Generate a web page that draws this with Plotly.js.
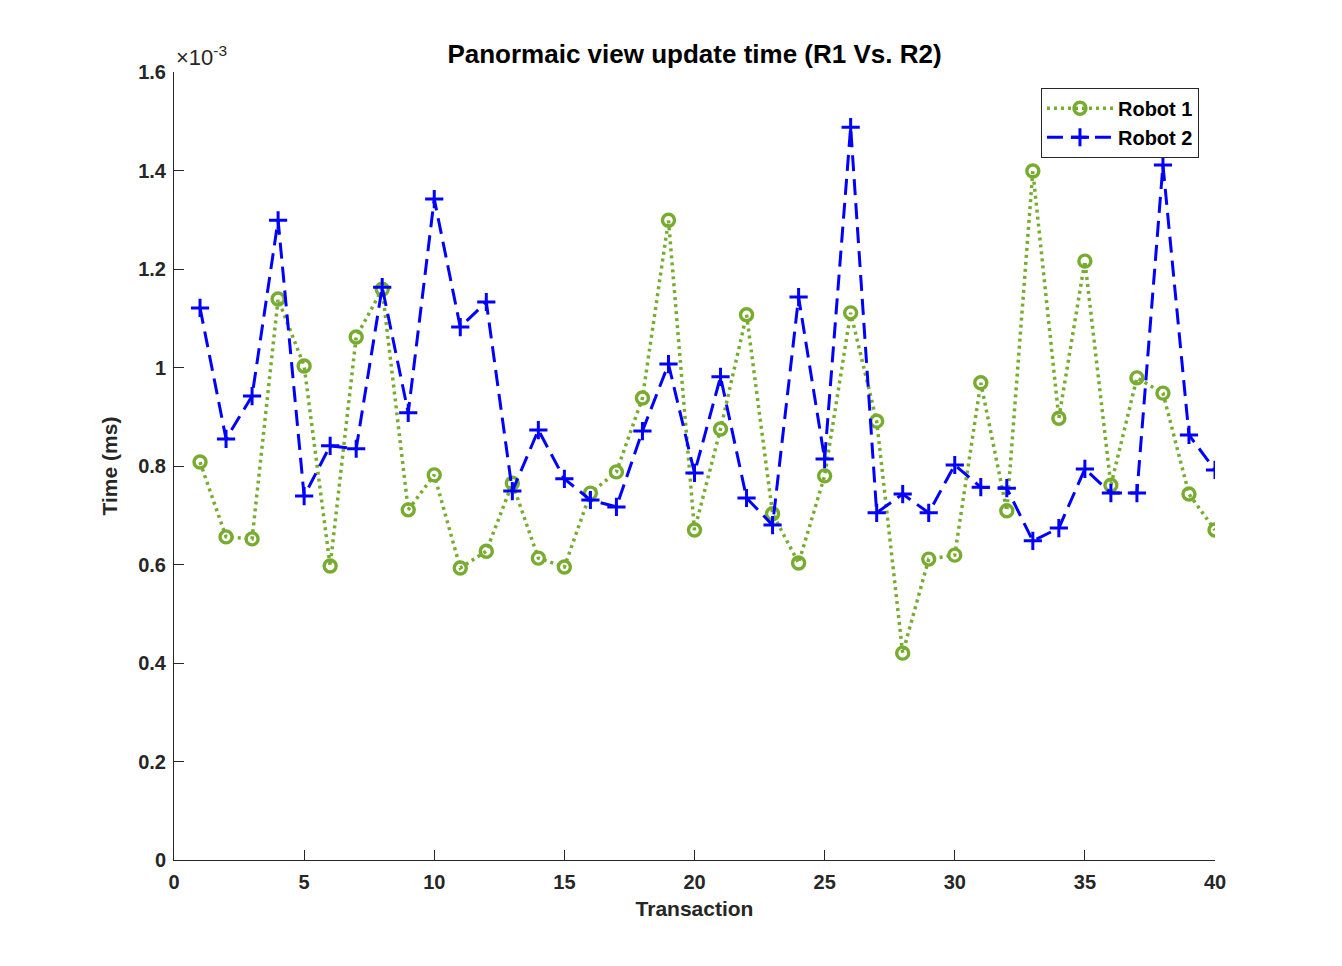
<!DOCTYPE html>
<html>
<head>
<meta charset="utf-8">
<script src="https://cdn.plot.ly/plotly-3.0.1.min.js"></script>
<style>html,body{margin:0;padding:0;background:#fff;}#chart{width:1342px;height:966px;}</style>
</head>
<body>
<div id="chart"></div>
<script>
// Transactions
const transactions = Array.from({length: 40}, (_, i) => i + 1);
// Time values (x10^-3)
const robot1 = [0.808,0.656,0.652,1.139,1.003,0.597,1.062,1.159,0.711,0.782,
                0.593,0.627,0.765,0.613,0.595,0.745,0.788,0.938,1.299,0.670,
                0.875,1.107,0.703,0.603,0.780,1.111,0.891,0.420,0.611,0.619,
                0.969,0.709,1.399,0.897,1.216,0.761,0.979,0.948,0.743,0.670];
const robot2 = [1.121,0.855,0.942,1.299,0.739,0.841,0.835,1.163,0.908,1.342,
                1.082,1.133,0.749,0.873,0.774,0.731,0.717,0.871,1.007,0.786,
                0.981,0.735,0.680,1.143,0.814,1.488,0.705,0.743,0.705,0.802,
                0.757,0.755,0.648,0.674,0.794,0.745,0.745,1.411,0.863,0.792];
const seriesNames = ["Robot 1", "Robot 2"];
const xTicks = [0,5,10,15,20,25,30,35,40];
const yTicks = [0,0.2,0.4,0.6,0.8,1,1.2,1.4,1.6];
const yTickText = ["0","0.2","0.4","0.6","0.8","1","1.2","1.4","1.6"];

const green = "rgb(119,172,48)";
const blue = "rgb(0,0,255)";
const fontFam = "Liberation Sans, Arial, Helvetica, sans-serif";
const axColor = "#262626";

const traces = [
  {x: transactions, y: robot1, name: seriesNames[0], mode: "lines+markers",
   line: {color: green, dash: "3px,4px", width: 3.5},
   marker: {symbol: "circle-open", size: 12, color: green, line: {width: 3.4, color: green}}},
  {x: transactions, y: robot2, name: seriesNames[1], mode: "lines+markers",
   line: {color: blue, dash: "16px,8px", width: 3},
   marker: {symbol: "cross-thin-open", size: 13, color: blue, line: {width: 3, color: blue}}}
];

const axisCommon = {
  showgrid: false, zeroline: false, showline: true, linecolor: axColor, linewidth: 1,
  ticks: "inside", ticklen: 10, tickwidth: 1, tickcolor: axColor, mirror: false,
  tickfont: {family: fontFam, size: 20, color: axColor, weight: "bold"}
};

const layout = {
  width: 1342, height: 966,
  margin: {l: 174, r: 127, t: 72, b: 106},
  paper_bgcolor: "#fff", plot_bgcolor: "#fff",
  font: {family: fontFam},
  showlegend: true,
  title: {text: "Panormaic view update time (R1 Vs. R2)", xref: "paper", x: 0.5, xanchor: "center", y: 0.944, yanchor: "middle",
          font: {family: fontFam, size: 26, color: "#000", weight: "bold"}},
  xaxis: Object.assign({}, axisCommon, {range: [0, 40], tickvals: xTicks, ticklabelstandoff: 4,
          title: {text: "Transaction", standoff: 9, font: {family: fontFam, size: 21, color: axColor, weight: "bold"}}}),
  yaxis: Object.assign({}, axisCommon, {range: [0, 1.6], tickvals: yTicks, ticktext: yTickText, ticklabelstandoff: 3,
          title: {text: "Time (ms)", standoff: 14, font: {family: fontFam, size: 21, color: axColor, weight: "bold"}}}),
  legend: {x: 0.9846, xanchor: "right", y: 0.98, yanchor: "top", bgcolor: "#fff",
           bordercolor: axColor, borderwidth: 1, itemwidth: 66,
           font: {family: fontFam, size: 20, color: "#000", weight: "bold"}, tracegroupgap: 0},
  annotations: [{xref: "paper", yref: "paper", x: 0, y: 1, xanchor: "left", yanchor: "bottom", xshift: 0, yshift: 0,
                 showarrow: false, text: "×10<sup>-3</sup>",
                 font: {family: fontFam, size: 22, color: axColor}}]
};

Plotly.newPlot("chart", traces, layout, {displayModeBar: false, staticPlot: true});
</script>
</body>
</html>
